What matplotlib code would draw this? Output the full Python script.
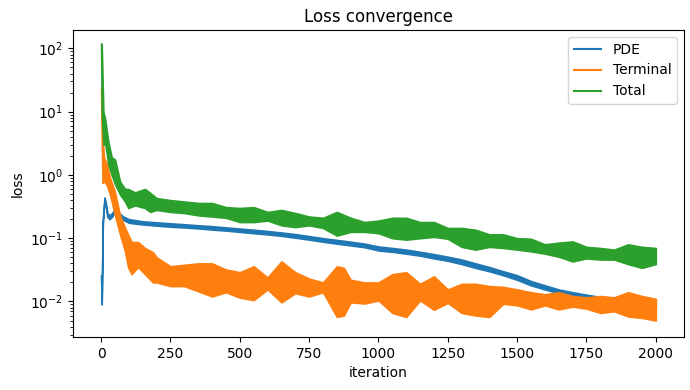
import matplotlib
matplotlib.use("Agg")
import matplotlib.pyplot as plt
from matplotlib.lines import Line2D

# envelopes (low / high) of each noisy loss curve
pde_iter = [0, 2, 6, 12, 16, 22, 30, 40, 50, 56, 65, 80, 100, 150, 200, 250, 300, 350,
            400, 450, 500, 550, 600, 650, 700, 750, 800, 850, 900, 950, 1000, 1050,
            1100, 1150, 1200, 1250, 1300, 1350, 1400, 1450, 1500, 1550, 1600, 1650,
            1700, 1750, 1800, 1850, 1900, 1950, 2000]
pde_lo = [0.022, 0.009, 0.17, 0.39, 0.34, 0.22, 0.20, 0.22, 0.27, 0.27, 0.22, 0.195,
          0.175, 0.165, 0.158, 0.152, 0.148, 0.143, 0.137, 0.132, 0.126, 0.12, 0.115,
          0.109, 0.102, 0.095, 0.088, 0.082, 0.077, 0.072, 0.064, 0.061, 0.057, 0.053,
          0.048, 0.044, 0.039, 0.034, 0.03, 0.026, 0.022, 0.018, 0.0155, 0.0135,
          0.0122, 0.0112, 0.0104, 0.0098, 0.0092, 0.0088, 0.0084]
pde_hi = [0.026, 0.011, 0.20, 0.44, 0.38, 0.25, 0.23, 0.25, 0.30, 0.30, 0.25, 0.22,
          0.20, 0.185, 0.178, 0.172, 0.166, 0.16, 0.155, 0.148, 0.142, 0.136, 0.13,
          0.123, 0.116, 0.108, 0.10, 0.094, 0.088, 0.082, 0.074, 0.07, 0.066, 0.061,
          0.056, 0.051, 0.046, 0.04, 0.035, 0.03, 0.026, 0.021, 0.018, 0.0155, 0.014,
          0.0128, 0.0118, 0.011, 0.0104, 0.0099, 0.0095]

term_iter = [0, 2, 5, 10, 20, 32, 50, 68, 86, 97, 110, 133, 158, 187, 200, 250, 300,
             350, 400, 450, 500, 550, 600, 650, 700, 750, 800, 850, 875, 900, 950, 1000,
             1050, 1100, 1150, 1200, 1250, 1300, 1350, 1400, 1450, 1500, 1550, 1600,
             1650, 1700, 1750, 1800, 1850, 1900, 1950, 2000]
term_lo = [22.0, 4.0, 0.75, 0.8, 0.7, 0.49, 0.23, 0.115, 0.062, 0.035, 0.027, 0.035,
           0.027, 0.02, 0.02, 0.0175, 0.0175, 0.0145, 0.012, 0.014, 0.0115, 0.0105,
           0.0155, 0.0097, 0.0135, 0.012, 0.014, 0.0057, 0.006, 0.0097, 0.0093, 0.0104,
           0.0066, 0.0057, 0.0104, 0.0074, 0.0095, 0.0066, 0.006, 0.0057, 0.0092,
           0.0087, 0.0075, 0.0087, 0.0075, 0.0083, 0.0077, 0.0066, 0.007, 0.0058,
           0.0055, 0.005]
term_hi = [24.0, 20.0, 4.0, 1.9, 1.5, 0.9, 0.53, 0.23, 0.145, 0.115, 0.087, 0.087,
           0.07, 0.06, 0.05, 0.036, 0.038, 0.04, 0.04, 0.032, 0.029, 0.036, 0.024,
           0.043, 0.029, 0.023, 0.02, 0.036, 0.034, 0.022, 0.02, 0.02, 0.027, 0.029,
           0.019, 0.025, 0.0155, 0.019, 0.019, 0.0175, 0.017, 0.0155, 0.014, 0.013,
           0.014, 0.0122, 0.0116, 0.0122, 0.0116, 0.014, 0.0122, 0.011]

total_iter = [0, 2, 8, 14, 26, 38, 50, 68, 86, 98, 122, 158, 177, 200, 250, 300, 350,
              400, 450, 500, 550, 600, 650, 700, 750, 800, 850, 900, 950, 1000, 1050,
              1100, 1150, 1200, 1250, 1300, 1350, 1400, 1450, 1500, 1550, 1600, 1650,
              1700, 1750, 1800, 1850, 1900, 1950, 2000]
total_lo = [110.0, 10.0, 3.0, 3.3, 1.44, 1.0, 0.71, 0.49, 0.38, 0.30, 0.33, 0.30, 0.26,
            0.28, 0.26, 0.25, 0.23, 0.22, 0.21, 0.18, 0.18, 0.19, 0.16, 0.15, 0.16,
            0.145, 0.11, 0.126, 0.126, 0.12, 0.10, 0.095, 0.10, 0.105, 0.098, 0.073,
            0.066, 0.073, 0.07, 0.066, 0.062, 0.057, 0.051, 0.043, 0.048, 0.046, 0.046,
            0.039, 0.034, 0.039]
total_hi = [120.0, 110.0, 10.0, 7.8, 3.3, 1.9, 1.75, 0.79, 0.60, 0.60, 0.53, 0.60, 0.52,
            0.43, 0.40, 0.38, 0.36, 0.36, 0.31, 0.30, 0.31, 0.26, 0.28, 0.25, 0.22,
            0.21, 0.26, 0.21, 0.18, 0.19, 0.21, 0.21, 0.18, 0.18, 0.145, 0.145, 0.136,
            0.115, 0.115, 0.10, 0.098, 0.08, 0.085, 0.089, 0.073, 0.07, 0.066, 0.08,
            0.073, 0.07]

series = [
    ("PDE", "C0", pde_iter, pde_lo, pde_hi),
    ("Terminal", "C1", term_iter, term_lo, term_hi),
    ("Total", "C2", total_iter, total_lo, total_hi),
]

fig, ax = plt.subplots(figsize=(6.9, 3.9), dpi=100)

for name, color, it, lo, hi in series:
    ax.fill_between(it, lo, hi, color=color, edgecolor=color, linewidth=1.2)

ax.set_yscale("log")
ax.set_xlim(-101, 2101)
ax.set_ylim(0.00275, 195)
ax.set_title("Loss convergence")
ax.set_xlabel("iteration")
ax.set_ylabel("loss")

handles = [Line2D([], [], color=c, lw=1.5) for _, c, *_ in series]
ax.legend(handles, [s[0] for s in series], loc="upper right")

plt.subplots_adjust(left=0.106, right=0.991, top=0.923, bottom=0.136)
plt.savefig("out.png", dpi=100)
